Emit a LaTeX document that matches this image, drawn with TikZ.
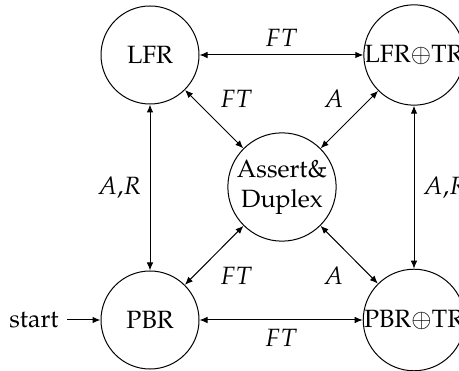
\documentclass[tikz,border=0pt]{standalone}
\usepackage[T1]{fontenc}
\usepackage{mathpazo}
\usetikzlibrary{arrows.meta}
\tikzset{
  st/.style={circle,draw,line width=0.4pt,minimum size=39.2pt,inner sep=0pt},
  tip/.style={>={Latex[length=3.2pt,width=2.6pt]},line width=0.4pt},
  tr/.style={<->,tip}
}
\begin{document}
\begin{tikzpicture}[x=0.4pt,y=-0.4pt]
\useasboundingbox (0,0) rectangle (459,371);
\node[st] (lfr) at (150,55) {LFR};
\node[st] (lfrtr) at (414,55) {LFR$\oplus$TR};
\node[st] (pbr) at (150,320) {PBR};
\node[st] (pbrtr) at (414,320) {PBR$\oplus$TR};
\node[st] (ad) at (282,187) {\begin{tabular}{@{}c@{}}Assert\&\\Duplex\end{tabular}};
\node (start) at (34,320) {start};
\draw[->,tip] (start) -- (pbr);
\draw[tr] (lfr) -- node[above] {$FT$} (lfrtr);
\draw[tr] (pbr) -- node[below] {$FT$} (pbrtr);
\draw[tr] (lfr) -- node[left] {$A{,}R$} (pbr);
\draw[tr] (lfrtr) -- node[right] {$A{,}R$} (pbrtr);
\draw[tr] (lfr) -- node[above right,pos=0.45] {$FT$} (ad);
\draw[tr] (lfrtr) -- node[above left,pos=0.45] {$A$} (ad);
\draw[tr] (pbr) -- node[below right,pos=0.45] {$FT$} (ad);
\draw[tr] (pbrtr) -- node[below left,pos=0.45] {$A$} (ad);
\end{tikzpicture}
\end{document}
